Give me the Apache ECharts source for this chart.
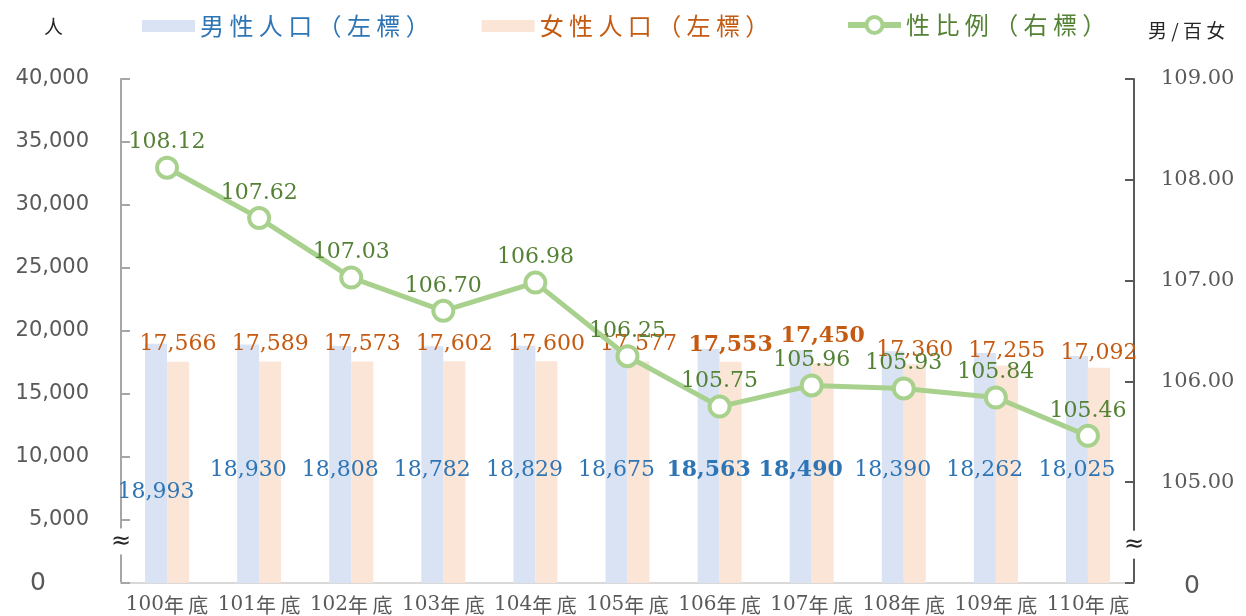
<!DOCTYPE html>
<html><head><meta charset="utf-8">
<script src="https://cdn.jsdelivr.net/npm/echarts@6/dist/echarts.min.js"></script>
<style>html,body{margin:0;padding:0;background:#fff}#c{width:1246px;height:616px}</style>
</head><body><div id="c"></div>
<script>
const categories = ['100年底','101年底','102年底','103年底','104年底','105年底','106年底','107年底','108年底','109年底','110年底'];
const maleValues = [18993,18930,18808,18782,18829,18675,18563,18490,18390,18262,18025];
const femaleValues = [17566,17589,17573,17602,17600,17577,17553,17450,17360,17255,17092];
const ratioValues = [108.12,107.62,107.03,106.70,106.98,106.25,105.75,105.96,105.93,105.84,105.46];
const boldIdx = [6,7];

const serif = 'DejaVu Serif';
const cjk = 'Noto Sans CJK TC';
const fmt = v => v.toString().replace(/\B(?=(\d{3})+(?!\d))/g, ',');
const spaced = s => s.split('').join(' ');

const maleData = maleValues.map((v,i) => ({
  value: v,
  label: {
    distance: i === 0 ? 80 : 102,
    fontWeight: boldIdx.includes(i) ? 'bold' : 'normal'
  }
}));
const femaleData = femaleValues.map((v,i) => ({
  value: v,
  label: {
    distance: i === 7 ? 16 : (i >= 8 ? 3 : 6),
    fontWeight: boldIdx.includes(i) ? 'bold' : 'normal'
  }
}));

const chart = echarts.init(document.getElementById('c'));
chart.setOption({
  animation: false,
  grid: {left: 121, right: 112, top: 79, bottom: 33},
  legend: [{
    left: 137, top: 9, itemWidth: 53, itemHeight: 12, itemGap: 52,
    textStyle: {fontFamily: cjk, fontSize: 24},
    formatter: n => spaced(n),
    data: [
      {name: '男性人口（左標）', icon: 'rect', textStyle: {color: '#2E75B6'}},
      {name: '女性人口（左標）', icon: 'rect', textStyle: {color: '#C55A11'}}
    ]
  },{
    left: 840, top: 8, itemWidth: 53, itemHeight: 20, itemGap: 4,
    textStyle: {fontFamily: cjk, fontSize: 24, color: '#548235'},
    formatter: n => spaced(n),
    data: [{name: '性比例（右標）', lineStyle: {width: 6, color: '#A9D18E'},
      itemStyle: {color: '#FFFFFF', borderColor: '#A9D18E', borderWidth: 4}}]
  }],
  xAxis: {
    type: 'category', data: categories,
    axisLine: {lineStyle: {color: '#D9D9D9', width: 2}},
    axisTick: {show: false},
    axisLabel: {
      margin: 12, interval: 0,
      formatter: v => '{d|' + v.slice(0,3) + '}{c|' + spaced(v.slice(3)) + '}',
      rich: {
        d: {color: '#595959', fontFamily: serif, fontSize: 20},
        c: {color: '#595959', fontFamily: cjk, fontSize: 20}
      }
    }
  },
  yAxis: [{
    type: 'value', min: 0, max: 40000, interval: 5000,
    splitLine: {show: false},
    axisLine: {show: true, lineStyle: {color: '#A6A6A6', width: 2}},
    axisTick: {show: true, inside: true, length: 9, lineStyle: {color: '#A6A6A6', width: 2}},
    axisLabel: {
      color: '#595959', fontFamily: 'DejaVu Sans', fontSize: 21, margin: 32,
      formatter: v => v === 0 ? '{z|0}' : fmt(v),
      rich: {z: {fontSize: 25, fontFamily: 'DejaVu Sans', color: '#595959', padding: [0, 43, 0, 0]}}
    }
  },{
    type: 'value', min: 104, max: 109, interval: 1,
    splitLine: {show: false},
    axisLine: {show: true, lineStyle: {color: '#595959', width: 2}},
    axisTick: {show: true, inside: true, length: 9, lineStyle: {color: '#595959', width: 2}},
    axisLabel: {
      color: '#595959', fontFamily: serif, fontSize: 21, margin: 27,
      formatter: v => v === 104 ? '{z|0}' : v.toFixed(2),
      rich: {z: {fontSize: 25, fontFamily: 'DejaVu Sans', color: '#595959', padding: [6, 0, 0, 23]}}
    }
  }],
  series: [{
    name: '男性人口（左標）', type: 'bar', data: maleData, barWidth: 22, barGap: '0%',
    itemStyle: {color: '#DAE3F3'},
    label: {show: true, position: 'insideBottom', color: '#2E75B6', fontFamily: serif, fontSize: 22,
      formatter: p => fmt(p.value)}
  },{
    name: '女性人口（左標）', type: 'bar', data: femaleData, barWidth: 22,
    itemStyle: {color: '#FBE5D6'},
    label: {show: true, position: 'top', color: '#C55A11', fontFamily: serif, fontSize: 22,
      formatter: p => fmt(p.value)}
  },{
    name: '性比例（右標）', type: 'line', yAxisIndex: 1, data: ratioValues, z: 5,
    symbol: 'circle', symbolSize: 20,
    lineStyle: {color: '#A9D18E', width: 5},
    itemStyle: {color: '#FFFFFF', borderColor: '#A9D18E', borderWidth: 4},
    label: {show: true, position: 'top', distance: 2, color: '#548235', fontFamily: serif, fontSize: 22,
      formatter: p => p.value.toFixed(2)}
  }]
});

const lb = chart.convertToPixel({yAxisIndex: 0}, 3300);
const rb = chart.convertToPixel({yAxisIndex: 1}, 104.38);
const leftX = 121, rightX = 1246 - 112;
chart.setOption({
  graphic: [
    {type: 'text', left: 44, top: 17, style: {text: '人', font: '19px "Noto Sans CJK TC"', fill: '#262626'}},
    {type: 'text', left: 1148, top: 21, style: {text: spaced('男/百女'), font: '19px "Noto Sans CJK TC"', fill: '#262626'}},
    {type: 'rect', shape: {x: leftX - 6, y: lb - 13, width: 12, height: 26}, style: {fill: '#fff'}, z: 100},
    {type: 'text', x: leftX, y: lb, style: {text: '≈', font: '24px "DejaVu Sans"', fill: '#262626', align: 'center', verticalAlign: 'middle'}, z: 101},
    {type: 'rect', shape: {x: rightX - 6, y: rb - 14, width: 12, height: 28}, style: {fill: '#fff'}, z: 100},
    {type: 'text', x: rightX, y: rb, style: {text: '≈', font: '24px "DejaVu Sans"', fill: '#262626', align: 'center', verticalAlign: 'middle'}, z: 101}
  ]
});
</script>
</body></html>
